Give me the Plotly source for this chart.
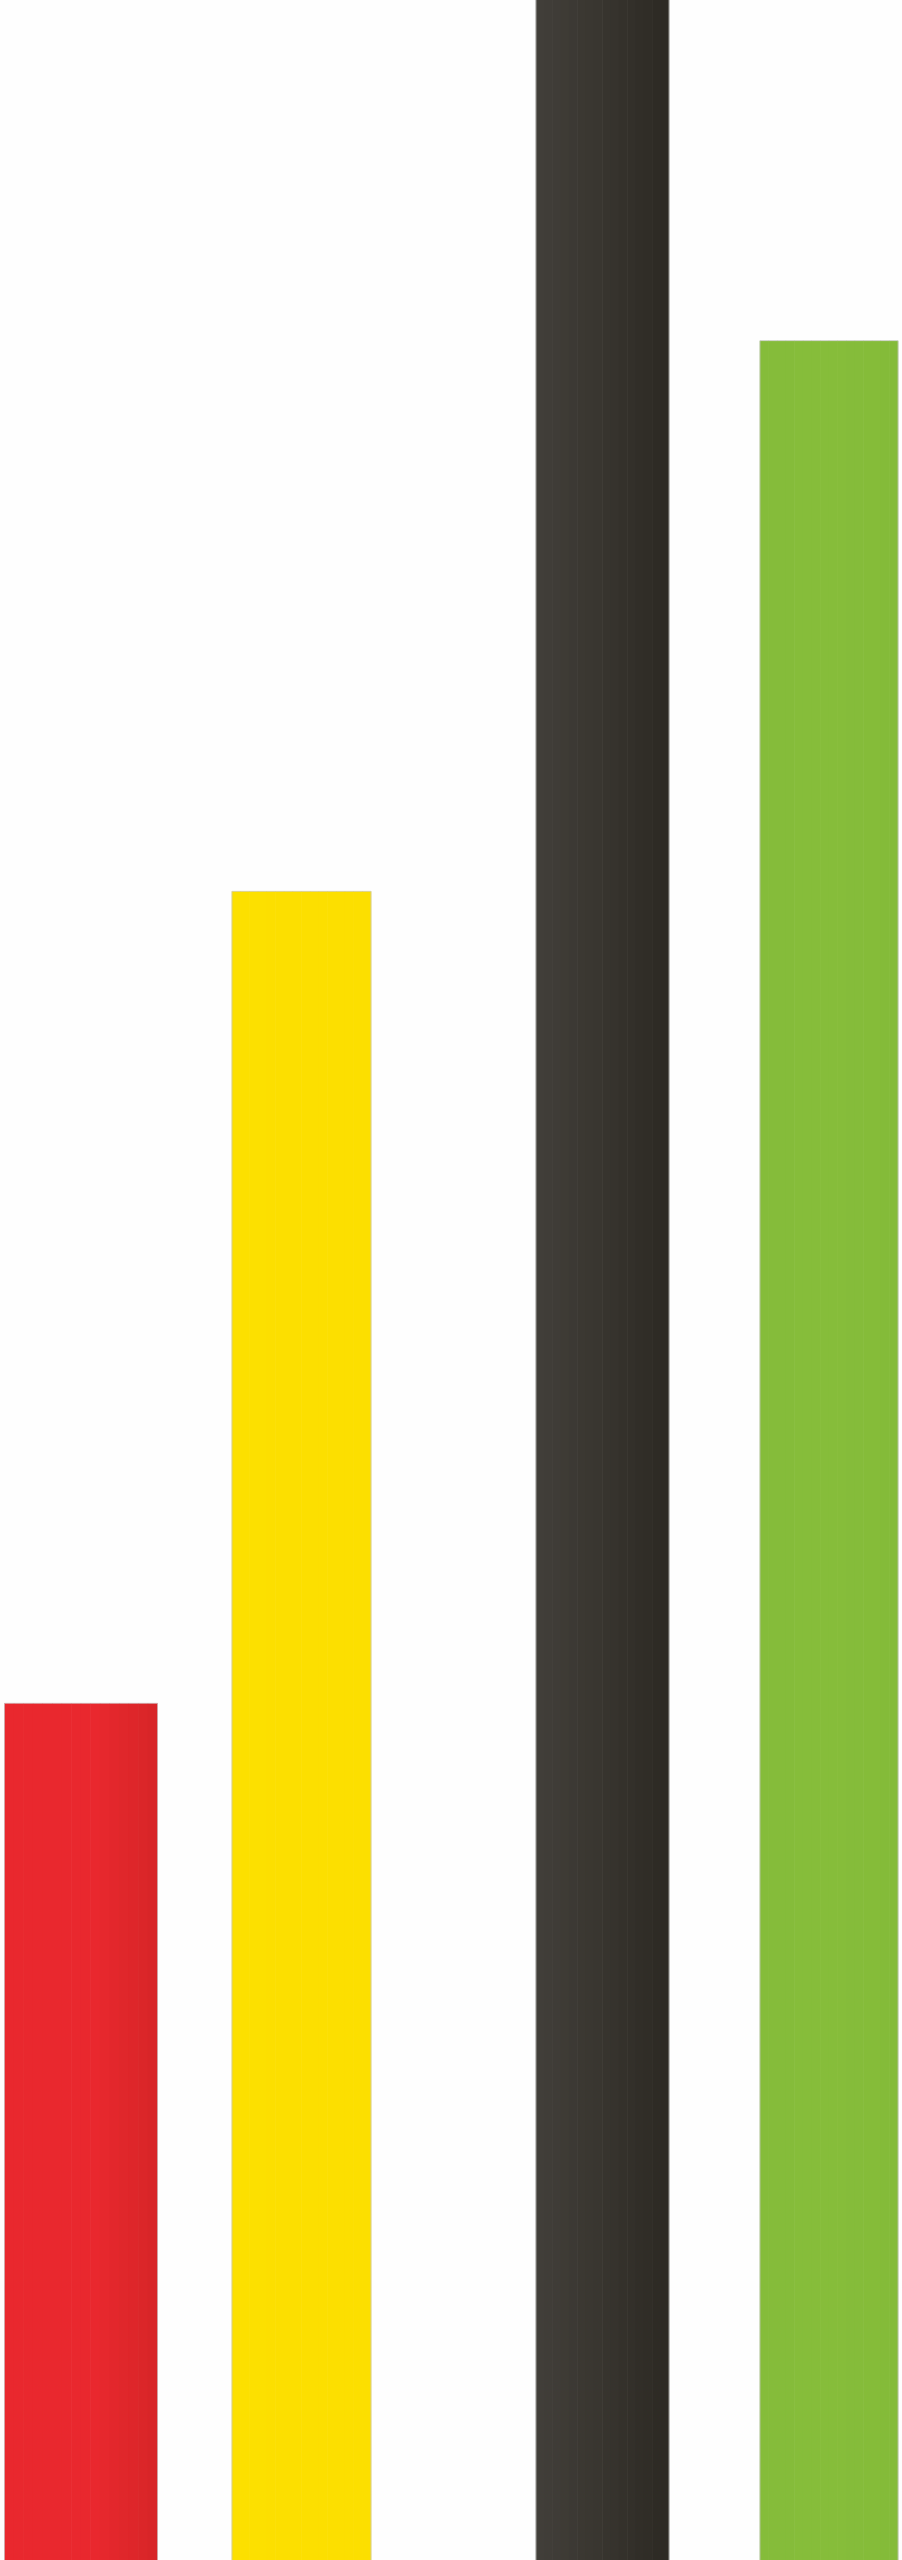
import plotly.graph_objects as go

# bar values (share of the full height; the dark bar runs off the top)
categories = ["A", "B", "C", "D"]
values = [33.5, 65.2, 101, 86.7]

# layout of the bars, in pixels across the 902px page
bar_left = [4.5, 232, 536, 760]
bar_right = [157.5, 371, 669, 898]

# left -> right gradient stops for each bar
grad_left = ["#e9282e", "#fce000", "#423f3a", "#85bc3a"]
grad_mid = ["#e8282e", "#fcdf00", "#38352f", "#86bd3a"]
grad_right = ["#d72527", "#fcdf00", "#2c2923", "#84bb39"]

N_SLICES = 16


def hex_to_rgb(h):
  h = h.lstrip("#")
  return tuple(int(h[i:i + 2], 16) for i in (0, 2, 4))


def mix(c1, c2, t):
  a, b = hex_to_rgb(c1), hex_to_rgb(c2)
  return "rgb(%d,%d,%d)" % tuple(round(a[i] + (b[i] - a[i]) * t) for i in range(3))


def slice_color(k, t):
  # red stays flat until ~60% then darkens, others blend through a mid stop
  if k == 0:
    return grad_left[k] if t < 0.6 else mix(grad_mid[k], grad_right[k], (t - 0.6) / 0.4)
  if t < 0.5:
    return mix(grad_left[k], grad_mid[k], t / 0.5)
  return mix(grad_mid[k], grad_right[k], (t - 0.5) / 0.5)


fig = go.Figure()

# draw each bar as thin vertical slices to fake a horizontal gradient
for s in range(N_SLICES):
  xs, ws, cs = [], [], []
  for k in range(len(categories)):
    w = (bar_right[k] - bar_left[k]) / N_SLICES
    xs.append(bar_left[k] + w * (s + 0.5))
    ws.append(w + 0.6)
    cs.append(slice_color(k, (s + 0.5) / N_SLICES))
  fig.add_trace(go.Bar(x=xs, y=values, width=ws, marker=dict(color=cs, line=dict(width=0)),
                       hovertext=categories, hoverinfo="text+y", showlegend=False))

# thin light outline around each bar
fig.add_trace(go.Bar(
  x=[(l + r) / 2 for l, r in zip(bar_left, bar_right)],
  y=values,
  width=[r - l for l, r in zip(bar_left, bar_right)],
  marker=dict(color="rgba(0,0,0,0)", line=dict(color="rgba(200,200,200,0.7)", width=1)),
  hoverinfo="skip", showlegend=False))

fig.update_layout(
  width=902, height=2560,
  margin=dict(l=0, r=0, t=0, b=0),
  barmode="overlay",
  paper_bgcolor="#fefefe", plot_bgcolor="#fefefe",
  xaxis=dict(range=[0, 902], visible=False, fixedrange=True),
  yaxis=dict(range=[0.05, 100], visible=False, fixedrange=True),
)

# drop the default body margin so the figure fills the window exactly
fig.write_html("out.html", config={"displayModeBar": False},
               post_script="document.body.style.margin='0';document.body.style.background='#fefefe';")
